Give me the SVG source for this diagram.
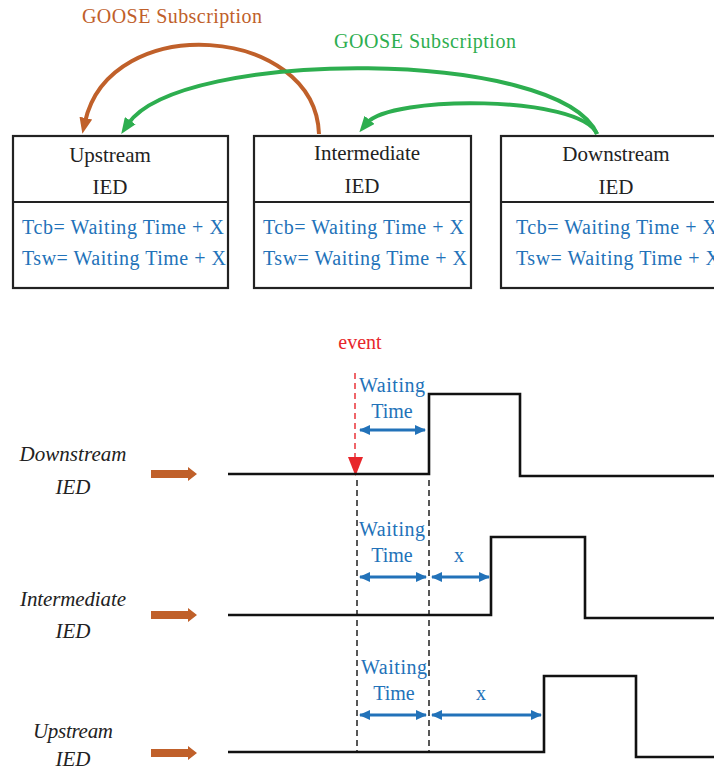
<svg xmlns="http://www.w3.org/2000/svg" width="714" height="771" viewBox="0 0 714 771">
<style>
text{font-family:"Liberation Serif","Times New Roman",serif}
.box{fill:#fff;stroke:#222;stroke-width:2.2}
.hd{font-size:21px;fill:#222;text-anchor:middle}
.bl{font-size:20px;fill:#2272B9}
.lbl{font-size:21px;fill:#222;font-style:italic;text-anchor:middle}
.wt{font-size:20px;fill:#2272B9;text-anchor:middle}
.sig{fill:none;stroke:#111;stroke-width:2.6}
.dash{stroke:#111;stroke-width:1.4;stroke-dasharray:6,4}
.dbl{stroke:#2272B9;stroke-width:3;marker-start:url(#bh);marker-end:url(#bh)}
.oa{fill:#C0602A}
</style>
<defs>
<marker id="ho" viewBox="0 0 16 13" markerWidth="16" markerHeight="13" refX="4" refY="6.5" orient="auto" markerUnits="userSpaceOnUse"><path d="M0,0 L16,6.5 L0,13 z" fill="#C0602A"/></marker>
<marker id="hg" viewBox="0 0 16 13" markerWidth="16" markerHeight="13" refX="4" refY="6.5" orient="auto" markerUnits="userSpaceOnUse"><path d="M0,0 L16,6.5 L0,13 z" fill="#2DAE4F"/></marker>
<marker id="bh" viewBox="0 0 11 10" markerWidth="11" markerHeight="10" refX="10" refY="5" orient="auto-start-reverse" markerUnits="userSpaceOnUse"><path d="M0,0 L11,5 L0,10 z" fill="#2272B9"/></marker>
</defs>

<g id="upstream">
<rect class="box" x="13" y="136" width="215" height="152"/>
<line x1="13" y1="202" x2="228" y2="202" stroke="#222" stroke-width="2.2"/>
<text class="hd" x="110" y="162">Upstream</text>
<text class="hd" x="110" y="194">IED</text>
<text class="bl" x="22" y="234" textLength="202">Tcb= Waiting Time + X</text>
<text class="bl" x="22" y="265" textLength="204">Tsw= Waiting Time + X</text>
</g>
<g id="intermediate">
<rect class="box" x="254" y="136" width="217" height="152"/>
<line x1="254" y1="202" x2="471" y2="202" stroke="#222" stroke-width="2.2"/>
<text class="hd" x="367" y="160">Intermediate</text>
<text class="hd" x="362" y="193">IED</text>
<text class="bl" x="263" y="234" textLength="201">Tcb= Waiting Time + X</text>
<text class="bl" x="263" y="265" textLength="204">Tsw= Waiting Time + X</text>
</g>
<g id="downstream">
<rect class="box" x="501" y="136" width="230" height="152"/>
<line x1="501" y1="202" x2="714" y2="202" stroke="#222" stroke-width="2.2"/>
<text class="hd" x="616" y="161">Downstream</text>
<text class="hd" x="616" y="194">IED</text>
<text class="bl" x="516" y="234" textLength="201">Tcb= Waiting Time + X</text>
<text class="bl" x="516" y="265" textLength="204">Tsw= Waiting Time + X</text>
</g>

<g id="connectors" fill="none" stroke-width="4">
<path d="M319,134 C315,25 110,10 85,122" stroke="#C0602A" marker-end="url(#ho)"/>
<path d="M597,134 C560,48 180,48 128,124" stroke="#2DAE4F" marker-end="url(#hg)"/>
<path d="M597,134 C580,95 390,95 367,123" stroke="#2DAE4F" marker-end="url(#hg)"/>
</g>
<text x="172" y="23" font-size="20" fill="#C0602A" text-anchor="middle" textLength="180">GOOSE Subscription</text>
<text x="425" y="48" font-size="20" fill="#2DAE4F" text-anchor="middle" textLength="182">GOOSE Subscription</text>

<g id="timing">
<text x="360" y="349" font-size="20" fill="#E8262B" text-anchor="middle">event</text>
<line x1="355" y1="373" x2="355" y2="460" stroke="#E8262B" stroke-width="1.4" stroke-dasharray="6,4"/>
<path d="M348,457 L363,457 L355.5,476 z" fill="#E8262B"/>

<line class="dash" x1="357" y1="480" x2="357" y2="752"/>
<line class="dash" x1="429" y1="480" x2="429" y2="752"/>

<g id="row-downstream">
<text class="lbl" x="73" y="461" textLength="107">Downstream</text>
<text class="lbl" x="73" y="494">IED</text>
<path class="oa" d="M151,470 L188,470 L188,467 L197,474 L188,481 L188,478 L151,478 z"/>
<polyline class="sig" points="228,474 429,474 429,394 520,394 520,476 714,476"/>
<text class="wt" x="392" y="392" textLength="66">Waiting</text>
<text class="wt" x="392" y="418">Time</text>
<line class="dbl" x1="360" y1="430" x2="425" y2="430"/>
</g>

<g id="row-intermediate">
<text class="lbl" x="73" y="606" textLength="106">Intermediate</text>
<text class="lbl" x="73" y="638">IED</text>
<path class="oa" d="M151,611 L188,611 L188,608 L197,615 L188,622 L188,619 L151,619 z"/>
<polyline class="sig" points="228,615 491,615 491,537 585,537 585,618 714,618"/>
<text class="wt" x="392" y="536" textLength="66">Waiting</text>
<text class="wt" x="392" y="562">Time</text>
<text class="wt" x="459" y="562">x</text>
<line class="dbl" x1="360" y1="577" x2="426" y2="577"/>
<line class="dbl" x1="432" y1="577" x2="489" y2="577"/>
</g>

<g id="row-upstream">
<text class="lbl" x="73" y="738" textLength="80">Upstream</text>
<text class="lbl" x="73" y="766">IED</text>
<path class="oa" d="M151,749 L188,749 L188,746 L197,753 L188,760 L188,757 L151,757 z"/>
<polyline class="sig" points="228,752 544,752 544,676 636,676 636,757 714,757"/>
<text class="wt" x="394" y="674" textLength="66">Waiting</text>
<text class="wt" x="394" y="700">Time</text>
<text class="wt" x="481" y="700">x</text>
<line class="dbl" x1="360" y1="715" x2="426" y2="715"/>
<line class="dbl" x1="432" y1="715" x2="541" y2="715"/>
</g>
</g>
</svg>
